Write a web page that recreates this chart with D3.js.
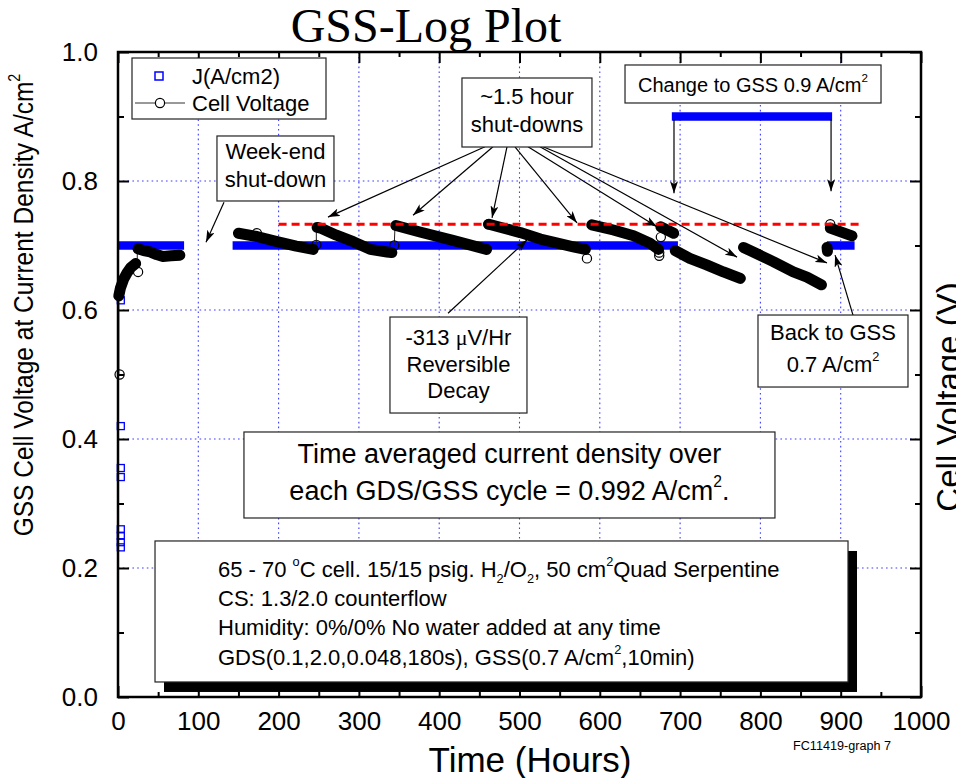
<!DOCTYPE html>
<html>
<head>
<meta charset="utf-8">
<script src="https://cdn.jsdelivr.net/npm/d3@7"></script>
<style>
  body { margin: 0; background: #fff; }
  svg { display: block; }
</style>
</head>
<body>
<svg id="chart" width="956" height="778"></svg>
<script>
// ---- axis ticks -------------------------------------------------------
const timeTicks = [0, 100, 200, 300, 400, 500, 600, 700, 800, 900, 1000];
const timeMinorTicks = [50, 150, 250, 350, 450, 550, 650, 750, 850, 950];
const voltTicks = [0.0, 0.2, 0.4, 0.6, 0.8, 1.0];
const voltMinorTicks = [0.1, 0.3, 0.5, 0.7, 0.9];
const gridTimes = [100, 200, 300, 400, 500, 600, 700, 800, 900];
const gridVolts = [0.2, 0.4, 0.6, 0.8];

// ---- current density J (A/cm2) ----------------------------------------
// galvanostatic holds: [first hour, last hour, J]
const currentHolds = [
  [5, 77, 0.70],
  [148, 692, 0.70],
  [695, 884, 0.90],
  [888, 912, 0.70]
];
// start-up ramp samples: [hour, J]
const currentStartup = [
  [3.5, 0.615], [3.5, 0.42], [3.5, 0.355], [3.5, 0.341],
  [3.5, 0.26], [3.5, 0.25], [3.5, 0.24], [3.5, 0.232]
];

// ---- cell voltage (V) -------------------------------------------------
// each run is one uninterrupted GSS period: [hour, volts]
const voltageRuns = [
  [[1, 0.622], [3, 0.634], [7, 0.648], [11, 0.657], [16, 0.666], [22, 0.672]],
  [[25, 0.695], [32, 0.692], [40, 0.690], [48, 0.686], [56, 0.683], [66, 0.684], [77, 0.685]],
  [[150, 0.719], [173, 0.714], [198, 0.706], [222, 0.699], [243, 0.694]],
  [[248, 0.728], [252, 0.727], [272, 0.716], [293, 0.706], [314, 0.694], [335, 0.690], [341, 0.689]],
  [[346, 0.731], [376, 0.721], [417, 0.708], [459, 0.694]],
  [[462, 0.733], [501, 0.720], [526, 0.710], [546, 0.704], [567, 0.698], [582, 0.694]],
  [[590, 0.732], [617, 0.724], [642, 0.715], [662, 0.704], [673, 0.694]],
  [[676, 0.729], [692, 0.719]],
  [[694, 0.692], [712, 0.680], [733, 0.670], [754, 0.659], [775, 0.649]],
  [[779, 0.697], [816, 0.675], [841, 0.659], [858, 0.651], [876, 0.639]],
  [[883, 0.697], [883.5, 0.691]],
  [[887, 0.727], [914, 0.715]]
];
// individual readings that stand apart from the runs: [hour, volts]
const voltageSingles = [
  [2, 0.50], [25, 0.659], [173, 0.719], [247, 0.701], [344, 0.700],
  [461, 0.733], [584, 0.680], [676, 0.713], [674, 0.684], [674, 0.689], [887, 0.733]
];
// recovery steps after each shut-down: [hour, volts] pairs
const voltageSteps = [
  [[1, 0.50], [1, 0.618]],
  [[24, 0.672], [24, 0.695]],
  [[247, 0.701], [247, 0.728]],
  [[344, 0.700], [345, 0.731]]
];
// post-recovery reference level
const referenceLevel = [[200, 0.733], [925, 0.733]];

// ---- scales ----------------------------------------------------------
const FONT = "Arial, 'Liberation Sans', Helvetica, sans-serif";
const SERIF = "'Times New Roman', 'Liberation Serif', serif";
const svg = d3.select("#chart");
const x = d3.scaleLinear().domain([0, 1000]).range([118, 921]);
const y = d3.scaleLinear().domain([0, 1]).range([697, 52]);

svg.append("rect").attr("width", 956).attr("height", 778).attr("fill", "#fff");

// arrowhead
svg.append("defs").append("marker")
  .attr("id", "head").attr("viewBox", "0 0 12 8")
  .attr("refX", 12).attr("refY", 4)
  .attr("markerWidth", 12).attr("markerHeight", 8)
  .attr("markerUnits", "userSpaceOnUse").attr("orient", "auto")
  .append("path").attr("d", "M0,0 L12,4 L0,8 L3,4 Z").attr("fill", "#000");

// rich text with super/subscripts and symbol-font runs
function richText(sel, parts, fs) {
  let shift = 0;
  parts.forEach(p => {
    const t = sel.append("tspan");
    if (typeof p === "string") {
      t.attr("dy", -shift).text(p); shift = 0;
    } else if (p.sup !== undefined) {
      const d = -0.48 * fs;
      t.attr("dy", d - shift).attr("font-size", fs * 0.58).text(p.sup); shift = d;
    } else if (p.sub !== undefined) {
      const d = 0.28 * fs;
      t.attr("dy", d - shift).attr("font-size", fs * 0.58).text(p.sub); shift = d;
    } else {
      t.attr("dy", -shift).attr("font-family", SERIF).text(p.sym); shift = 0;
    }
  });
}

// ---- grid --------------------------------------------------------------
const grid = svg.append("g")
  .attr("stroke", "#3d3dff").attr("stroke-width", 1.1).attr("stroke-dasharray", "1.6,3.2");
grid.selectAll(".gx").data(gridTimes).join("line").attr("class", "gx")
  .attr("x1", d => x(d)).attr("x2", d => x(d)).attr("y1", y(0)).attr("y2", y(1));
grid.selectAll(".gy").data(gridVolts).join("line").attr("class", "gy")
  .attr("x1", x(0)).attr("x2", x(1000)).attr("y1", d => y(d)).attr("y2", d => y(d));

// ---- axes --------------------------------------------------------------
function styleAxis(g) {
  g.select(".domain").remove();
  g.selectAll(".tick line").attr("stroke", "#000").attr("stroke-width", 2);
  g.selectAll("text").attr("font-family", FONT).attr("font-size", 26).attr("fill", "#000");
}
svg.append("g").attr("transform", `translate(0,${y(0)})`)
  .call(d3.axisBottom(x).tickValues(timeTicks).tickSize(-11).tickPadding(15).tickFormat(d3.format("d")))
  .call(styleAxis);
svg.append("g").attr("transform", `translate(0,${y(0)})`)
  .call(d3.axisBottom(x).tickValues(timeMinorTicks).tickSize(-5).tickFormat(""))
  .call(styleAxis);
svg.append("g").attr("transform", `translate(0,${y(1)})`)
  .call(d3.axisTop(x).tickValues(timeTicks).tickSize(-11).tickFormat(""))
  .call(styleAxis);
svg.append("g").attr("transform", `translate(0,${y(1)})`)
  .call(d3.axisTop(x).tickValues(timeMinorTicks).tickSize(-5).tickFormat(""))
  .call(styleAxis);
svg.append("g").attr("transform", `translate(${x(0)},0)`)
  .call(d3.axisLeft(y).tickValues(voltTicks).tickSize(-11).tickPadding(20).tickFormat(d3.format(".1f")))
  .call(styleAxis);
svg.append("g").attr("transform", `translate(${x(0)},0)`)
  .call(d3.axisLeft(y).tickValues(voltMinorTicks).tickSize(-6).tickFormat(""))
  .call(styleAxis);
svg.append("g").attr("transform", `translate(${x(1000)},0)`)
  .call(d3.axisRight(y).tickValues(voltTicks).tickSize(-11).tickFormat(""))
  .call(styleAxis);
svg.append("g").attr("transform", `translate(${x(1000)},0)`)
  .call(d3.axisRight(y).tickValues(voltMinorTicks).tickSize(-6).tickFormat(""))
  .call(styleAxis);

// ---- J series ------------------------------------------------------------
svg.append("g").selectAll("line").data(currentHolds).join("line")
  .attr("x1", d => x(d[0])).attr("x2", d => x(d[1]))
  .attr("y1", d => y(d[2])).attr("y2", d => y(d[2]))
  .attr("stroke", "#0000ff").attr("stroke-width", 8.5).attr("stroke-linecap", "square");
svg.append("g").selectAll("rect").data(currentStartup).join("rect")
  .attr("x", d => x(d[0]) - 3.5).attr("y", d => y(d[1]) - 3.5)
  .attr("width", 7).attr("height", 7)
  .attr("fill", "none").attr("stroke", "#0000ff").attr("stroke-width", 1.3);

// ---- cell voltage series ------------------------------------------------
const line = d3.line().x(d => x(d[0])).y(d => y(d[1]));
svg.append("g").selectAll("path").data(voltageSteps).join("path")
  .attr("d", line).attr("fill", "none").attr("stroke", "#222").attr("stroke-width", 1);
svg.append("g").selectAll("path").data(voltageRuns).join("path")
  .attr("d", line).attr("fill", "none").attr("stroke", "#000")
  .attr("stroke-width", 11).attr("stroke-linecap", "round").attr("stroke-linejoin", "round");
svg.append("g").selectAll("circle").data(voltageSingles).join("circle")
  .attr("cx", d => x(d[0])).attr("cy", d => y(d[1])).attr("r", 4.6)
  .attr("fill", "none").attr("stroke", "#000").attr("stroke-width", 1.2);

// reference level
svg.append("path").datum(referenceLevel).attr("d", line)
  .attr("fill", "none").attr("stroke", "#ff0000").attr("stroke-width", 3)
  .attr("stroke-dasharray", "8,5");

// ---- callouts ------------------------------------------------------------
const calloutArrows = [
  [[132, 0.767], [109.6, 0.705]],
  [[457, 0.853], [261.5, 0.744]],
  [[467, 0.853], [367.4, 0.747]],
  [[484.4, 0.853], [465.8, 0.743]],
  [[494.4, 0.853], [571.6, 0.735]],
  [[510.6, 0.853], [671.2, 0.729]],
  [[525.5, 0.853], [770.9, 0.682]],
  [[529.3, 0.853], [882.9, 0.673]],
  [[411, 0.595], [509.3, 0.7085]],
  [[692.4, 0.895], [692.4, 0.781]],
  [[888, 0.895], [888, 0.784]],
  [[915.3, 0.592], [893, 0.685]]
];
svg.append("g").selectAll("path").data(calloutArrows).join("path")
  .attr("d", line).attr("fill", "none").attr("stroke", "#000").attr("stroke-width", 1.2)
  .attr("marker-end", "url(#head)");

// text boxes: centre in data units, size in px, baselines from box top
const boxes = [
  { t: 196.1, v: 0.8194, w: 117, h: 65, fs: 22, rows: [[23, ["Week-end"]], [51, ["shut-down"]]] },
  { t: 509.3, v: 0.9062, w: 130, h: 69, fs: 22, rows: [[26, ["~1.5 hour"]], [54, ["shut-downs"]]] },
  { t: 424.0, v: 0.5147, w: 137, h: 96, fs: 22,
    rows: [[28, ["-313 ", { sym: "\u03BC" }, "V/Hr"]], [55, ["Reversible"]], [81, ["Decay"]]] },
  { t: 790.8, v: 0.9504, w: 256, h: 38, fs: 20, rows: [[27, ["Change to GSS 0.9 A/cm", { sup: "2" }]]] },
  { t: 890.4, v: 0.5364, w: 150, h: 72, fs: 22,
    rows: [[25, ["Back to GSS"]], [57, ["0.7 A/cm", { sup: "2" }]]] },
  { t: 487.5, v: 0.3442, w: 531, h: 86, fs: 27,
    rows: [[31, ["Time averaged current density over"]],
           [68, ["each GDS/GSS cycle = 0.992 A/cm", { sup: "2" }, "."]]] }
];
boxes.forEach(b => {
  const cx = x(b.t), cy = y(b.v);
  const top = cy - b.h / 2;
  svg.append("rect").attr("x", cx - b.w / 2).attr("y", top).attr("width", b.w).attr("height", b.h)
    .attr("fill", "#fff").attr("stroke", "#222").attr("stroke-width", 1.2);
  b.rows.forEach(([off, parts]) => {
    const t = svg.append("text").attr("x", cx).attr("y", top + off)
      .attr("text-anchor", "middle").attr("font-family", FONT).attr("font-size", b.fs).attr("fill", "#000");
    richText(t, parts, b.fs);
  });
});

// test-conditions panel with drop shadow
const cond = { t: 477.6, v: 0.1326, w: 693, h: 141, fs: 22, inset: 63,
  rows: [
    [36, ["65 - 70 ", { sup: "o" }, "C cell. 15/15 psig. H", { sub: "2" }, "/O", { sub: "2" }, ", 50 cm", { sup: "2" }, "Quad Serpentine"]],
    [65, ["CS: 1.3/2.0 counterflow"]],
    [94, ["Humidity: 0%/0% No water added at any time"]],
    [124, ["GDS(0.1,2.0,0.048,180s), GSS(0.7 A/cm", { sup: "2" }, ",10min)"]]
  ] };
{
  const left = x(cond.t) - cond.w / 2, top = y(cond.v) - cond.h / 2;
  svg.append("rect").attr("x", left + 9).attr("y", top + 10).attr("width", cond.w).attr("height", cond.h)
    .attr("fill", "#000");
  svg.append("rect").attr("x", left).attr("y", top).attr("width", cond.w).attr("height", cond.h)
    .attr("fill", "#fff").attr("stroke", "#222").attr("stroke-width", 1.2);
  cond.rows.forEach(([off, parts]) => {
    const t = svg.append("text").attr("x", left + cond.inset).attr("y", top + off)
      .attr("font-family", FONT).attr("font-size", cond.fs).attr("fill", "#000");
    richText(t, parts, cond.fs);
  });
}

// ---- legend ------------------------------------------------------------
const lg = svg.append("g").attr("transform", `translate(${x(0) + 14},${y(1) + 6})`);
lg.append("rect").attr("width", 194).attr("height", 61).attr("fill", "#fff").attr("stroke", "#222").attr("stroke-width", 1.2);
lg.append("rect").attr("x", 23).attr("y", 14).attr("width", 8).attr("height", 8)
  .attr("fill", "none").attr("stroke", "#0000ff").attr("stroke-width", 1.5);
lg.append("text").attr("x", 60).attr("y", 26).attr("font-family", FONT).attr("font-size", 22).text("J(A/cm2)");
lg.append("line").attr("x1", 3).attr("x2", 53).attr("y1", 45).attr("y2", 45).attr("stroke", "#333").attr("stroke-width", 1);
lg.append("circle").attr("cx", 28).attr("cy", 45).attr("r", 4.6).attr("fill", "#fff").attr("stroke", "#000").attr("stroke-width", 1.2);
lg.append("text").attr("x", 60).attr("y", 53).attr("font-family", FONT).attr("font-size", 22).text("Cell Voltage");

// ---- frame ---------------------------------------------------------------
svg.append("rect").attr("x", x(0)).attr("y", y(1)).attr("width", x(1000) - x(0)).attr("height", y(0) - y(1))
  .attr("fill", "none").attr("stroke", "#000").attr("stroke-width", 2.5);

// ---- titles --------------------------------------------------------------
svg.append("text").attr("x", 426).attr("y", 42).attr("text-anchor", "middle")
  .attr("font-family", SERIF).attr("font-size", 48).text("GSS-Log Plot");
svg.append("text").attr("x", 530).attr("y", 772).attr("text-anchor", "middle")
  .attr("font-family", FONT).attr("font-size", 35).text("Time (Hours)");
{
  const t = svg.append("g").attr("transform", "translate(33,305) rotate(-90) scale(0.875,1)")
    .append("text").attr("text-anchor", "middle").attr("font-family", FONT).attr("font-size", 28);
  richText(t, ["GSS Cell Voltage at Current Density A/cm", { sup: "2" }], 28);
}
svg.append("text").attr("transform", "translate(960,397) rotate(-90)").attr("text-anchor", "middle")
  .attr("font-family", FONT).attr("font-size", 33).text("Cell Voltage (V)");
svg.append("text").attr("x", 793).attr("y", 750).attr("font-family", FONT).attr("font-size", 12)
  .attr("textLength", 98).attr("lengthAdjust", "spacingAndGlyphs").text("FC11419-graph 7");
</script>
</body>
</html>
